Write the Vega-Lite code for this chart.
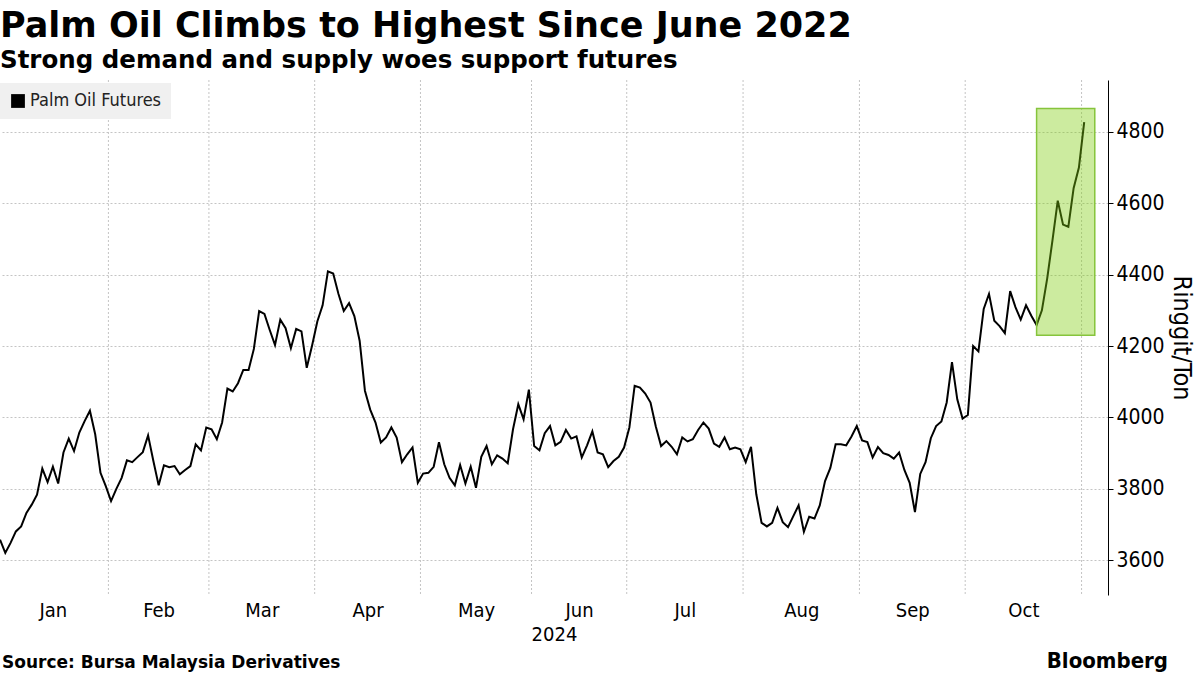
{
  "$schema": "https://vega.github.io/schema/vega-lite/v6.json",
  "width": 1108,
  "height": 515,
  "autosize": "none",
  "padding": {"left": 0, "top": 80, "right": 92, "bottom": 80},
  "background": "white",
  "title": {
    "text": "Palm Oil Climbs to Highest Since June 2022",
    "subtitle": "Strong demand and supply woes support futures",
    "anchor": "start",
    "frame": "group",
    "font": "DejaVu Sans",
    "fontSize": 35,
    "fontWeight": "bold",
    "color": "#000000",
    "subtitleFont": "DejaVu Sans",
    "subtitleFontSize": 24.5,
    "subtitleFontWeight": "bold",
    "subtitleColor": "#000000",
    "subtitlePadding": 5,
    "offset": 7
  },
  "config": {
    "view": {"stroke": null},
    "font": "DejaVu Sans"
  },
  "datasets": {
    "palm": [
      {"day":0,"price":3658},{"day":1,"price":3621},{"day":2,"price":3649},{"day":3,"price":3681},{"day":4,"price":3695},{"day":5,"price":3733},{"day":6,"price":3756},{"day":7,"price":3784},{"day":8,"price":3857},{"day":9,"price":3819},{"day":10,"price":3862},{"day":11,"price":3815},{"day":12,"price":3902},{"day":13,"price":3941},{"day":14,"price":3906},{"day":15,"price":3958},{"day":16,"price":3990},{"day":17,"price":4019},{"day":18,"price":3953},{"day":19,"price":3845},{"day":20,"price":3808},
      {"day":21,"price":3766},{"day":22,"price":3800},{"day":23,"price":3831},{"day":24,"price":3880},{"day":25,"price":3875},{"day":26,"price":3889},{"day":27,"price":3903},{"day":28,"price":3950},{"day":29,"price":3878},{"day":30,"price":3810},{"day":31,"price":3866},{"day":32,"price":3861},{"day":33,"price":3864},{"day":34,"price":3841},{"day":35,"price":3853},{"day":36,"price":3864},{"day":37,"price":3925},{"day":38,"price":3908},{"day":39,"price":3972},
      {"day":40,"price":3967},{"day":41,"price":3939},{"day":42,"price":3986},{"day":43,"price":4081},{"day":44,"price":4073},{"day":45,"price":4096},{"day":46,"price":4133},{"day":47,"price":4133},{"day":48,"price":4192},{"day":49,"price":4298},{"day":50,"price":4290},{"day":51,"price":4245},{"day":52,"price":4203},{"day":53,"price":4274},{"day":54,"price":4250},{"day":55,"price":4194},{"day":56,"price":4248},{"day":57,"price":4241},{"day":58,"price":4139},{"day":59,"price":4201},
      {"day":60,"price":4269},{"day":61,"price":4314},{"day":62,"price":4409},{"day":63,"price":4403},{"day":64,"price":4346},{"day":65,"price":4298},{"day":66,"price":4320},{"day":67,"price":4284},{"day":68,"price":4215},{"day":69,"price":4075},{"day":70,"price":4022},{"day":71,"price":3986},{"day":72,"price":3930},{"day":73,"price":3944},{"day":74,"price":3972},{"day":75,"price":3944},{"day":76,"price":3875},{"day":77,"price":3897},{"day":78,"price":3916},{"day":79,"price":3817},
      {"day":80,"price":3843},{"day":81,"price":3845},{"day":82,"price":3862},{"day":83,"price":3931},{"day":84,"price":3869},{"day":85,"price":3831},{"day":86,"price":3810},{"day":87,"price":3867},{"day":88,"price":3815},{"day":89,"price":3862},{"day":90,"price":3803},{"day":91,"price":3890},{"day":92,"price":3920},{"day":93,"price":3869},{"day":94,"price":3894},{"day":95,"price":3885},{"day":96,"price":3872},{"day":97,"price":3967},{"day":98,"price":4037},{"day":99,"price":3995},{"day":100,"price":4078},
      {"day":101,"price":3920},{"day":102,"price":3908},{"day":103,"price":3956},{"day":104,"price":3976},{"day":105,"price":3922},{"day":106,"price":3932},{"day":107,"price":3965},{"day":108,"price":3941},{"day":109,"price":3947},{"day":110,"price":3888},{"day":111,"price":3922},{"day":112,"price":3961},{"day":113,"price":3902},{"day":114,"price":3897},{"day":115,"price":3861},{"day":116,"price":3878},{"day":117,"price":3890},{"day":118,"price":3916},
      {"day":119,"price":3972},{"day":120,"price":4089},{"day":121,"price":4084},{"day":122,"price":4067},{"day":123,"price":4042},{"day":124,"price":3975},{"day":125,"price":3920},{"day":126,"price":3934},{"day":127,"price":3918},{"day":128,"price":3897},{"day":129,"price":3944},{"day":130,"price":3933},{"day":131,"price":3939},{"day":132,"price":3965},{"day":133,"price":3986},{"day":134,"price":3969},{"day":135,"price":3927},{"day":136,"price":3918},{"day":137,"price":3944},{"day":138,"price":3911},{"day":139,"price":3916},{"day":140,"price":3911},
      {"day":141,"price":3875},{"day":142,"price":3918},{"day":143,"price":3785},{"day":144,"price":3705},{"day":145,"price":3695},{"day":146,"price":3705},{"day":147,"price":3747},{"day":148,"price":3707},{"day":149,"price":3693},{"day":150,"price":3724},{"day":151,"price":3754},{"day":152,"price":3680},{"day":153,"price":3722},{"day":154,"price":3717},{"day":155,"price":3754},{"day":156,"price":3822},{"day":157,"price":3859},{"day":158,"price":3925},{"day":159,"price":3925},{"day":160,"price":3922},{"day":161,"price":3947},{"day":162,"price":3976},
      {"day":163,"price":3936},{"day":164,"price":3931},{"day":165,"price":3888},{"day":166,"price":3917},{"day":167,"price":3900},{"day":168,"price":3895},{"day":169,"price":3885},{"day":170,"price":3902},{"day":171,"price":3853},{"day":172,"price":3817},{"day":173,"price":3735},{"day":174,"price":3842},{"day":175,"price":3875},{"day":176,"price":3942},{"day":177,"price":3976},{"day":178,"price":3989},{"day":179,"price":4042},{"day":180,"price":4155},{"day":181,"price":4051},{"day":182,"price":3997},
      {"day":183,"price":4007},{"day":184,"price":4200},{"day":185,"price":4185},{"day":186,"price":4304},{"day":187,"price":4346},{"day":188,"price":4271},{"day":189,"price":4256},{"day":190,"price":4236},{"day":191,"price":4354},{"day":192,"price":4309},{"day":193,"price":4274},{"day":194,"price":4314},{"day":195,"price":4285},{"day":196,"price":4259},{"day":197,"price":4300},{"day":198,"price":4389},{"day":199,"price":4496},{"day":200,"price":4607},{"day":201,"price":4540},{"day":202,"price":4534},{"day":203,"price":4642},{"day":204,"price":4700},
      {"day":205,"price":4827}
    ],
    "monthStarts": [
      {"boundary": 20.5}, {"boundary": 39.5}, {"boundary": 59.5}, {"boundary": 79.5}, {"boundary": 100.5},
      {"boundary": 118.5}, {"boundary": 140.5}, {"boundary": 162.5}, {"boundary": 182.5}, {"boundary": 204.5}
    ]
  },
  "layer": [
    {
      "data": {"name": "monthStarts"},
      "mark": {"type": "rule", "color": "#c4c4c4", "strokeWidth": 1, "strokeDash": [2, 2]},
      "encoding": {
        "x": {
          "field": "boundary",
          "type": "quantitative",
          "scale": {"domain": [0, 209.5], "nice": false, "zero": false},
          "axis": {
            "orient": "bottom",
            "title": "2024",
            "values": [10, 30, 49.5, 69.5, 90, 109.5, 129.5, 151.5, 172.5, 193.5],
            "labelExpr": "['Jan','Feb','Mar','Apr','May','Jun','Jul','Aug','Sep','Oct'][indexof([10,30,49.5,69.5,90,109.5,129.5,151.5,172.5,193.5], datum.value)]",
            "grid": false,
            "ticks": false,
            "domain": false,
            "labelFont": "Liberation Sans Narrow, DejaVu Sans Condensed, Liberation Sans",
            "labelFontSize": 20,
            "labelColor": "#000000",
            "labelPadding": 5,
            "labelOverlap": false,
            "titleFont": "Liberation Sans Narrow, DejaVu Sans Condensed, Liberation Sans",
            "titleFontSize": 20,
            "titleFontWeight": "normal",
            "titleColor": "#000000",
            "titlePadding": 4
          }
        }
      }
    },
    {
      "data": {"name": "palm"},
      "mark": {"type": "line", "strokeWidth": 2, "interpolate": "linear"},
      "encoding": {
        "x": {"field": "day", "type": "quantitative"},
        "y": {
          "field": "price",
          "type": "quantitative",
          "scale": {"domain": [3503, 4945], "nice": false, "zero": false},
          "axis": {
            "orient": "right",
            "title": "Ringgit/Ton",
            "titleAngle": 90,
            "titleFont": "Liberation Sans Narrow, DejaVu Sans Condensed, Liberation Sans",
            "titleFontSize": 25,
            "titleFontWeight": "normal",
            "titleColor": "#000000",
            "titlePadding": 4,
            "values": [3600, 3700, 3800, 3900, 4000, 4100, 4200, 4300, 4400, 4500, 4600, 4700, 4800, 4900],
            "labelExpr": "datum.value % 200 === 0 ? datum.value : ''",
            "labelOverlap": false,
            "labelFont": "Liberation Sans Narrow, DejaVu Sans Condensed, Liberation Sans",
            "labelFontSize": 21,
            "labelColor": "#000000",
            "labelPadding": 3,
            "labelBaseline": "middle",
            "domainColor": "#000000",
            "domainWidth": 1,
            "tickColor": "#000000",
            "tickSize": 5,
            "tickWidth": 1,
            "grid": true,
            "gridColor": "#c4c4c4",
            "gridDash": [2, 2],
            "gridWidth": 1,
            "gridOpacity": {"condition": {"test": "datum.value % 200 !== 0", "value": 0}, "value": 1}
          }
        },
        "color": {
          "datum": "Palm Oil Futures",
          "type": "nominal",
          "scale": {"range": ["#000000"]},
          "legend": {
            "title": null,
            "orient": "none",
            "legendX": 0,
            "legendY": 3,
            "fillColor": "#f0f0f0",
            "padding": 9,
            "symbolType": "square",
            "symbolSize": 190,
            "symbolFillColor": "#000000",
            "symbolStrokeColor": "#000000",
            "symbolStrokeWidth": 0,
            "labelFont": "Liberation Sans Narrow, DejaVu Sans Condensed, Liberation Sans",
            "labelFontSize": 18,
            "labelColor": "#222222",
            "labelOffset": 3
          }
        }
      }
    },
    {
      "data": {"values": [{}]},
      "mark": {"type": "rect", "fill": "#80cc10", "fillOpacity": 0.4, "stroke": "#86c43c", "strokeWidth": 1.5},
      "encoding": {
        "x": {"datum": 196},
        "x2": {"datum": 207},
        "y": {"datum": 4230},
        "y2": {"datum": 4865}
      }
    },
    {
      "data": {"values": [{"text": "Source: Bursa Malaysia Derivatives"}]},
      "mark": {"type": "text", "align": "left", "baseline": "alphabetic", "font": "DejaVu Sans", "fontWeight": "bold", "fontSize": 17, "color": "#000000", "clip": false},
      "encoding": {
        "text": {"field": "text"},
        "x": {"value": 2},
        "y": {"value": 588}
      }
    },
    {
      "data": {"values": [{"text": "Bloomberg"}]},
      "mark": {"type": "text", "align": "right", "baseline": "alphabetic", "font": "Liberation Sans Narrow, DejaVu Sans Condensed, Liberation Sans", "fontWeight": "bold", "fontSize": 22, "color": "#000000", "clip": false},
      "encoding": {
        "text": {"field": "text"},
        "x": {"value": 1168},
        "y": {"value": 588}
      }
    }
  ]
}
